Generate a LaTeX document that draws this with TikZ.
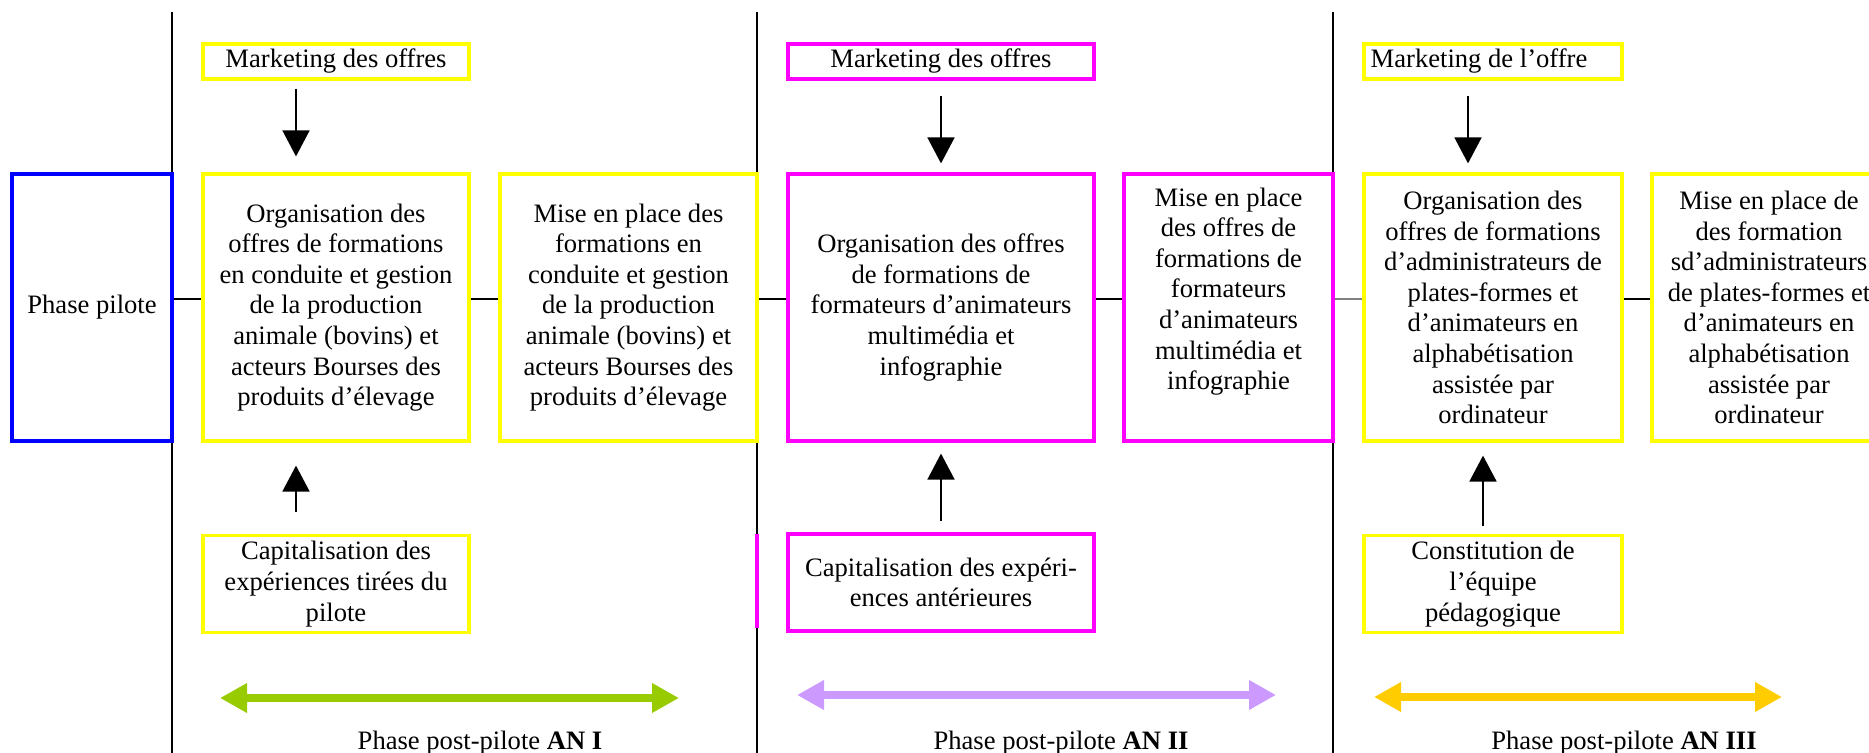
\documentclass[tikz,border=0pt]{standalone}
\usepackage{fontspec}
\setmainfont{Liberation Serif}
\usetikzlibrary{arrows.meta}
\definecolor{boxyellow}{RGB}{255,255,0}
\definecolor{boxmagenta}{RGB}{255,0,255}
\definecolor{boxblue}{RGB}{0,0,255}
\definecolor{anone}{RGB}{153,204,0}
\definecolor{antwo}{RGB}{204,153,255}
\definecolor{anthree}{RGB}{255,204,0}
\tikzset{
  box/.style={draw, line width=1.6pt, align=center, inner sep=1pt,
    font=\fontsize{13.3}{15.3}\selectfont},
  ybox/.style={box, draw=boxyellow},
  mbox/.style={box, draw=boxmagenta},
  bigbox/.style={minimum height=133.5pt},
  topbox/.style={minimum height=17.5pt},
  lowbox/.style={minimum height=48.5pt},
  link/.style={line width=1pt},
  sepline/.style={line width=0.7pt},
  feed/.style={-{Triangle[length=13pt,width=13.5pt]}, line width=0.9pt},
  phasearrow/.style={{Triangle[length=13.5pt,width=14pt]}-{Triangle[length=13.5pt,width=14pt]}, line width=4pt},
  phaselabel/.style={anchor=base, inner sep=0pt, font=\fontsize{13.3}{15.3}\selectfont}
}
\begin{document}
\begin{tikzpicture}[x=0.5pt,y=-0.5pt]
\useasboundingbox (0,0) rectangle (1869,753);
% the year separators
\foreach \x in {172,757,1333}
  \draw[sepline] (\x,12) -- (\x,753);
% pilot phase
\node[box, draw=boxblue, bigbox, minimum width=80pt] (pilot) at (92,307.5) {Phase pilote};
% year I
\node[ybox, topbox, minimum width=133pt] (mkt1) at (336,61.5) {Marketing des offres};
\node[ybox, bigbox, minimum width=133pt] (org1) at (336,307.5) {Organisation des\\offres de formations\\en conduite et gestion\\de la production\\animale (bovins) et\\acteurs Bourses des\\produits d’élevage};
\node[ybox, bigbox, minimum width=128.5pt] (mise1) at (628.5,307.5) {Mise en place des\\formations en\\conduite et gestion\\de la production\\animale (bovins) et\\acteurs Bourses des\\produits d’élevage};
\node[ybox, lowbox, minimum width=133pt, anchor=north] (cap1) at (336,534) {Capitalisation des\\expériences tirées du\\pilote};
% year II
\node[mbox, topbox, minimum width=153pt] (mkt2) at (941,61.5) {Marketing des offres};
\node[mbox, bigbox, minimum width=153pt] (org2) at (941,307.5) {Organisation des offres\\de formations de\\formateurs d’animateurs\\multimédia et\\infographie};
\node[mbox, bigbox, minimum width=104.5pt] (mise2) at (1228.5,307.5) {Mise en place\\des offres de\\formations de\\formateurs\\d’animateurs\\multimédia et\\infographie\\[3.5pt]~};
\node[mbox, lowbox, minimum width=153pt] (cap2) at (941,582.5) {Capitalisation des expéri-\\ences antérieures};
% year III
\node[ybox, topbox, minimum width=129pt] (mkt3) at (1493,61.5) {Marketing de l’offre\hspace*{14pt}};
\node[ybox, bigbox, minimum width=129pt] (org3) at (1493,307.5) {Organisation des\\offres de formations\\d’administrateurs de\\plates-formes et\\d’animateurs en\\alphabétisation\\assistée par\\ordinateur};
\node[ybox, bigbox, minimum width=117pt] (mise3) at (1769,307.5) {Mise en place de\\des formation\\sd’administrateurs\\de plates-formes et\\d’animateurs en\\alphabétisation\\assistée par\\ordinateur};
\node[ybox, lowbox, minimum width=129pt, anchor=north] (team) at (1493,534) {Constitution de\\l’équipe\\pédagogique};
% links along the chain
\draw[link] ([yshift=4.25pt]pilot.east) -- ([yshift=4.25pt]org1.west);
\draw[link] ([yshift=4.25pt]org1.east) -- ([yshift=4.25pt]mise1.west);
\draw[link] ([yshift=4.25pt]mise1.east) -- ([yshift=4.25pt]org2.west);
\draw[link] ([yshift=4.25pt]org2.east) -- ([yshift=4.25pt]mise2.west);
\draw[line width=0.6pt, gray] ([yshift=4.25pt]mise2.east) -- ([yshift=4.25pt]org3.west);
\draw[link] ([yshift=4.25pt]org3.east) -- ([yshift=4.25pt]mise3.west);
% marketing and support arrows
\draw[feed] ([xshift=-20pt,yshift=-4pt]mkt1.south) -- ([xshift=-20pt,yshift=8pt]org1.north);
\draw[feed] ([yshift=-7.5pt]mkt2.south) -- ([yshift=4.5pt]org2.north);
\draw[feed] ([xshift=-12.5pt,yshift=-7.5pt]mkt3.south) -- ([xshift=-12.5pt,yshift=4.5pt]org3.north);
\draw[feed] ([xshift=-20pt,yshift=11pt]cap1.north) -- ([xshift=-20pt,yshift=-11.5pt]org1.south);
\draw[feed] ([yshift=5.5pt]cap2.north) -- ([yshift=-5.5pt]org2.south);
\draw[feed] ([xshift=-5pt,yshift=4pt]team.north) -- ([xshift=-5pt,yshift=-6.5pt]org3.south);
% stray mark on the second separator
\draw[boxmagenta, line width=1.6pt] (757,534) -- (757,628);
% the post-pilot phases
\coordinate (ph1a) at (220,698);
\coordinate (ph1b) at (679,698);
\coordinate (ph2a) at (797,695);
\coordinate (ph2b) at (1276,695);
\coordinate (ph3a) at (1374,697);
\coordinate (ph3b) at (1782,697);
\draw[phasearrow, anone] (ph1a) -- (ph1b);
\draw[phasearrow, antwo] (ph2a) -- (ph2b);
\draw[phasearrow, anthree] (ph3a) -- (ph3b);
\node[phaselabel] (an1) at (480,749) {Phase post-pilote \textbf{AN I}};
\node[phaselabel] (an2) at (1061,749) {Phase post-pilote \textbf{AN II}};
\node[phaselabel] (an3) at (1624,749) {Phase post-pilote \textbf{AN III}};
\end{tikzpicture}
\end{document}
